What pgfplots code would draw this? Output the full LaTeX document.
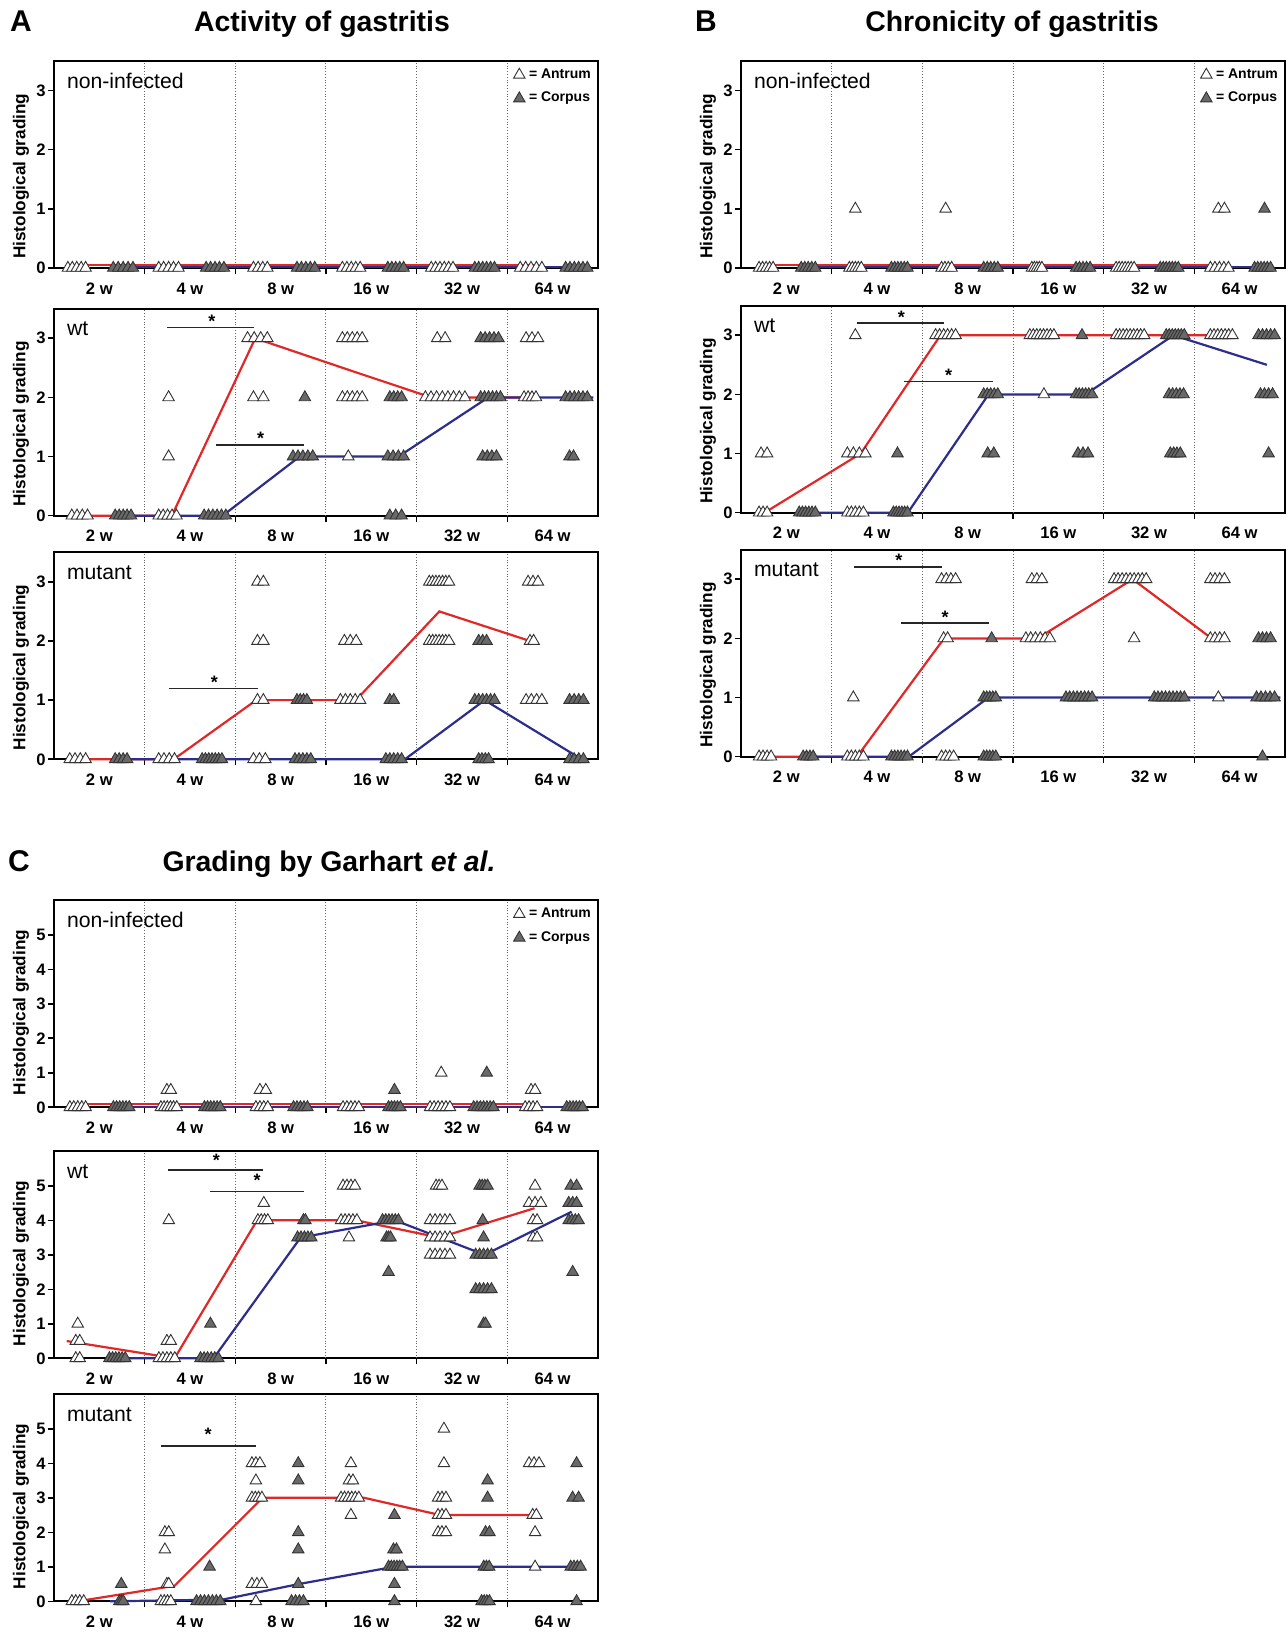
\documentclass[border=0pt]{standalone}
\usepackage{fontspec}
\setmainfont{Liberation Sans}
\usepackage{pgfplots}
\pgfplotsset{compat=1.18}
\definecolor{myred}{RGB}{225,40,40}
\definecolor{myblue}{RGB}{45,45,140}
\definecolor{corp}{RGB}{105,105,105}
\pgfplotsset{
 panel/.style={
  scale only axis, width=272pt, height=103.5pt,
  xmin=0, xmax=6, ymin=0, clip=false,
  axis line style={line width=0.9pt},
  tick pos=left, tick align=outside, major tick length=3pt,
  every tick/.style={black, line width=0.8pt},
  xtick={0.5,1.5,2.5,3.5,4.5,5.5},
  xticklabels={2 w,4 w,8 w,16 w,32 w,64 w},
  xtick style={draw=none},
  extra x ticks={1,2,3,4,5},
  extra x tick labels={},
  extra x tick style={grid=major, xtick style={draw=black,line width=0.8pt}},
  major grid style={densely dotted, black!60, line width=0.5pt},
  ticklabel style={font=\bfseries\fontsize{8.3}{9}\selectfont},
  xticklabel style={yshift=-0.8pt},
  yticklabel style={inner sep=1pt},
  /pgf/number format/assume math mode=true,
  legend style={at={(0.995,0.985)}, anchor=north east, draw=none, fill=none,
    font=\bfseries\fontsize{7}{8}\selectfont, inner sep=0pt, row sep=1.5pt},
  legend cell align=left,
  legend image code/.code={\draw[##1,/tikz/only marks] plot coordinates {(0.1cm,0cm)};},
 },
 pAB/.style={panel, ymax=3.5, ytick={0,1,2,3}, yticklabels={0,1,2,3}},
 pC/.style={panel, ymax=6, ytick={0,1,2,3,4,5}, yticklabels={0,1,2,3,4,5}},
 antrum/.style={only marks, mark=triangle*, mark size=3.3pt, mark options={fill=white, draw=black!80, line width=0.45pt}},
 corpus/.style={only marks, mark=triangle*, mark size=3.3pt, mark options={fill=corp, draw=black!80, line width=0.45pt}},
 redl/.style={no markers, line width=1.1pt, color=myred, forget plot},
 bluel/.style={no markers, line width=1.1pt, color=myblue, forget plot},
 sig/.style={no markers, line width=0.8pt, color=black!85, forget plot},
}
\newcommand{\ylab}[1]{\node[xshift=-16.5pt, rotate=90, font=\bfseries\fontsize{8.6}{9}\selectfont] at (axis cs:0,#1) {Histological grading};}
\newcommand{\pname}[1]{\node[anchor=west, font=\fontsize{10.6}{12}\selectfont] at (rel axis cs:0.011,0.903) {#1};}
\newcommand{\sigstar}[2]{\node[font=\bfseries\fontsize{9}{9}\selectfont] at (axis cs:#1,#2) {*};}
\begin{document}
\begin{tikzpicture}
\useasboundingbox (0,0) rectangle (643.5pt,816pt);
% titles
\node[anchor=base, font=\bfseries\fontsize{15}{16}\selectfont] at (10.5pt,800pt) {A};
\node[anchor=base, font=\bfseries\fontsize{14.2}{16}\selectfont] at (161pt,800pt) {Activity of gastritis};
\node[anchor=base, font=\bfseries\fontsize{15}{16}\selectfont] at (353pt,800pt) {B};
\node[anchor=base, font=\bfseries\fontsize{14.2}{16}\selectfont] at (506pt,800pt) {Chronicity of gastritis};
\node[anchor=base, font=\bfseries\fontsize{15}{16}\selectfont] at (9.5pt,380pt) {C};
\node[anchor=base, font=\bfseries\fontsize{14.2}{16}\selectfont] at (164.5pt,380pt) {Grading by Garhart \textit{et al.}};

% ================= A1
\begin{axis}[pAB, at={(27pt,682pt)}, anchor=south west]
\addplot[antrum] coordinates {(0.153,0)(0.202,0)(0.251,0)(0.300,0)(0.349,0)(1.155,0)(1.209,0)(1.264,0)(1.318,0)(1.373,0)(2.200,0)(2.251,0)(2.302,0)(2.353,0)(3.181,0)(3.230,0)(3.279,0)(3.328,0)(3.377,0)(4.161,0)(4.209,0)(4.257,0)(4.305,0)(4.353,0)(4.401,0)(5.142,0)(5.202,0)(5.261,0)(5.321,0)(5.381,0)};
\addlegendentry{= Antrum}
\addplot[corpus] coordinates {(0.654,0)(0.708,0)(0.763,0)(0.817,0)(0.871,0)(1.678,0)(1.727,0)(1.776,0)(1.825,0)(1.874,0)(2.680,0)(2.729,0)(2.778,0)(2.827,0)(2.876,0)(3.682,0)(3.726,0)(3.769,0)(3.813,0)(3.856,0)(4.641,0)(4.684,0)(4.728,0)(4.771,0)(4.815,0)(4.858,0)(5.643,0)(5.691,0)(5.739,0)(5.786,0)(5.834,0)(5.882,0)};
\addlegendentry{= Corpus}
\addplot[redl] coordinates {(0.16,0.045)(1.26,0.045)(2.28,0.045)(3.28,0.045)(4.28,0.045)(5.3,0.045)};
\addplot[bluel] coordinates {(0.66,0.01)(1.78,0.01)(2.78,0.01)(3.77,0.01)(4.75,0.01)(5.88,0.01)};
\ylab{1.55}
\pname{non-infected}
\end{axis}

% ================= A2
\begin{axis}[pAB, at={(27pt,558.15pt)}, anchor=south west]
\addplot[antrum] coordinates {(0.196,0)(0.254,0)(0.312,0)(0.370,0)
(1.264,2)(1.264,1)(1.155,0)(1.204,0)(1.253,0)(1.302,0)(1.351,0)
(2.135,3)(2.208,3)(2.280,3)(2.353,3)(2.200,2)(2.309,2)
(3.181,3)(3.235,3)(3.290,3)(3.344,3)(3.399,3)(3.181,2)(3.235,2)(3.290,2)(3.344,2)(3.399,2)(3.246,1)
(4.227,3)(4.314,3)(4.096,2)(4.158,2)(4.220,2)(4.283,2)(4.345,2)(4.407,2)(4.470,2)(4.532,2)
(5.207,3)(5.272,3)(5.338,3)(5.185,2)(5.229,2)(5.272,2)(5.316,2)};
\addplot[corpus] coordinates {(0.675,0)(0.719,0)(0.763,0)(0.806,0)(0.850,0)
(1.656,0)(1.704,0)(1.752,0)(1.799,0)(1.847,0)(1.895,0)
(2.767,2)(2.636,1)(2.691,1)(2.745,1)(2.800,1)(2.854,1)
(3.704,2)(3.747,2)(3.791,2)(3.834,2)(3.682,1)(3.740,1)(3.798,1)(3.856,1)(3.704,0)(3.769,0)(3.834,0)
(4.706,3)(4.755,3)(4.804,3)(4.853,3)(4.902,3)(4.706,2)(4.749,2)(4.793,2)(4.837,2)(4.880,2)(4.924,2)(4.728,1)(4.779,1)(4.829,1)(4.880,1)
(5.643,2)(5.691,2)(5.739,2)(5.786,2)(5.834,2)(5.882,2)(5.686,1)(5.730,1)};
\addplot[redl] coordinates {(0.18,0)(1.3,0)(2.22,3)(3.28,2.45)(4.16,2)(5.29,2)};
\addplot[bluel] coordinates {(0.68,0)(1.86,0)(2.71,1)(3.8,1)(4.79,2)(5.95,2)};
\addplot[sig] coordinates {(1.25,3.18)(2.21,3.18)};
\addplot[sig] coordinates {(1.79,1.2)(2.76,1.2)};
\sigstar{1.74}{3.29}
\sigstar{2.28}{1.31}
\ylab{1.55}
\pname{wt}
\end{axis}

% ================= A3
\begin{axis}[pAB, at={(27pt,436.35pt)}, anchor=south west]
\addplot[antrum] coordinates {(0.174,0)(0.232,0)(0.290,0)(0.349,0)
(1.155,0)(1.213,0)(1.271,0)(1.329,0)
(2.244,3)(2.309,3)(2.244,2)(2.309,2)(2.244,1)(2.309,1)(2.200,0)(2.266,0)(2.331,0)
(3.203,2)(3.268,2)(3.333,2)(3.159,1)(3.214,1)(3.268,1)(3.322,1)(3.377,1)
(4.139,3)(4.176,3)(4.212,3)(4.248,3)(4.285,3)(4.321,3)(4.357,3)(4.139,2)(4.176,2)(4.212,2)(4.248,2)(4.285,2)(4.321,2)(4.357,2)
(5.229,3)(5.283,3)(5.338,3)(5.250,2)(5.290,2)(5.207,1)(5.265,1)(5.323,1)(5.381,1)};
\addplot[corpus] coordinates {(0.675,0)(0.719,0)(0.763,0)(0.806,0)
(1.634,0)(1.670,0)(1.707,0)(1.743,0)(1.779,0)(1.816,0)(1.852,0)
(2.680,1)(2.716,1)(2.752,1)(2.789,1)(2.658,0)(2.702,0)(2.745,0)(2.789,0)(2.832,0)
(3.704,1)(3.747,1)(3.660,0)(3.704,0)(3.747,0)(3.791,0)(3.834,0)
(4.684,2)(4.728,2)(4.771,2)(4.641,1)(4.684,1)(4.728,1)(4.771,1)(4.815,1)(4.858,1)(4.684,0)(4.720,0)(4.757,0)(4.793,0)
(5.686,1)(5.737,1)(5.788,1)(5.839,1)(5.686,0)(5.737,0)(5.788,0)(5.839,0)};
\addplot[redl] coordinates {(0.2,0)(1.32,0)(2.23,1)(3.33,1)(4.25,2.5)(5.25,2)};
\addplot[bluel] coordinates {(0.68,0)(1.75,0)(2.75,0)(3.87,0)(4.75,1)(5.82,0)};
\addplot[sig] coordinates {(1.27,1.2)(2.25,1.2)};
\sigstar{1.77}{1.31}
\ylab{1.55}
\pname{mutant}
\end{axis}

% ================= B1
\begin{axis}[pAB, at={(370.5pt,682pt)}, anchor=south west]
\addplot[antrum] coordinates {(0.199,0)(0.238,0)(0.277,0)(0.315,0)(0.354,0)
(1.261,1)(1.195,0)(1.228,0)(1.261,0)(1.294,0)(1.327,0)
(2.257,1)(2.212,0)(2.249,0)(2.286,0)(2.323,0)
(3.208,0)(3.236,0)(3.263,0)(3.291,0)(3.319,0)
(4.137,0)(4.170,0)(4.204,0)(4.237,0)(4.270,0)(4.303,0)(4.336,0)
(5.265,1)(5.332,1)(5.177,0)(5.227,0)(5.277,0)(5.326,0)(5.376,0)};
\addlegendentry{= Antrum}
\addplot[corpus] coordinates {(0.664,0)(0.703,0)(0.741,0)(0.780,0)(0.819,0)
(1.659,0)(1.695,0)(1.730,0)(1.765,0)(1.801,0)(1.836,0)
(2.677,0)(2.716,0)(2.754,0)(2.793,0)(2.832,0)
(3.695,0)(3.733,0)(3.772,0)(3.811,0)(3.850,0)
(4.624,0)(4.657,0)(4.690,0)(4.724,0)(4.757,0)(4.790,0)(4.823,0)
(5.774,1)(5.664,0)(5.699,0)(5.735,0)(5.770,0)(5.805,0)(5.841,0)};
\addlegendentry{= Corpus}
\addplot[redl] coordinates {(0.2,0.045)(1.26,0.045)(2.27,0.045)(3.26,0.045)(4.24,0.045)(5.28,0.045)};
\addplot[bluel] coordinates {(0.66,0.01)(1.75,0.01)(2.75,0.01)(3.77,0.01)(4.72,0.01)(5.84,0.01)};
\ylab{1.55}
\pname{non-infected}
\end{axis}

% ================= B2
\begin{axis}[pAB, at={(370.5pt,559.65pt)}, anchor=south west]
\addplot[antrum] coordinates {(0.221,1)(0.288,1)(0.199,0)(0.243,0)(0.288,0)
(1.261,3)(1.173,1)(1.239,1)(1.305,1)(1.372,1)(1.173,0)(1.217,0)(1.261,0)(1.305,0)(1.350,0)
(2.146,3)(2.190,3)(2.235,3)(2.279,3)(2.323,3)(2.367,3)
(3.186,3)(3.224,3)(3.262,3)(3.300,3)(3.337,3)(3.375,3)(3.413,3)(3.451,3)(3.341,2)
(4.137,3)(4.176,3)(4.215,3)(4.253,3)(4.292,3)(4.331,3)(4.370,3)(4.408,3)(4.447,3)
(5.177,3)(5.217,3)(5.258,3)(5.298,3)(5.339,3)(5.379,3)(5.420,3)};
\addplot[corpus] coordinates {(0.642,0)(0.677,0)(0.712,0)(0.748,0)(0.783,0)(0.819,0)
(1.726,1)(1.681,0)(1.712,0)(1.743,0)(1.774,0)(1.805,0)(1.836,0)
(2.677,2)(2.716,2)(2.754,2)(2.793,2)(2.832,2)(2.721,1)(2.788,1)
(3.761,3)(3.695,2)(3.730,2)(3.765,2)(3.801,2)(3.836,2)(3.872,2)(3.717,1)(3.772,1)(3.827,1)
(4.690,3)(4.723,3)(4.757,3)(4.790,3)(4.823,3)(4.856,3)(4.889,3)(4.721,2)(4.761,2)(4.801,2)(4.841,2)(4.881,2)(4.735,1)(4.772,1)(4.808,1)(4.845,1)
(5.708,3)(5.752,3)(5.796,3)(5.841,3)(5.885,3)(5.730,2)(5.774,2)(5.819,2)(5.863,2)(5.819,1)};
\addplot[redl] coordinates {(0.26,0)(1.32,1)(2.2,3)(3.3,3)(4.3,3)(5.2,3)};
\addplot[bluel] coordinates {(0.64,0)(1.84,0)(2.73,2)(3.8,2)(4.77,3)(5.8,2.5)};
\addplot[sig] coordinates {(1.28,3.21)(2.24,3.21)};
\addplot[sig] coordinates {(1.8,2.22)(2.78,2.22)};
\sigstar{1.77}{3.31}
\sigstar{2.29}{2.32}
\ylab{1.55}
\pname{wt}
\end{axis}

% ================= B3
\begin{axis}[pAB, at={(370.5pt,437.65pt)}, anchor=south west]
\addplot[antrum] coordinates {(0.199,0)(0.243,0)(0.288,0)(0.332,0)
(1.239,1)(1.173,0)(1.217,0)(1.261,0)(1.305,0)(1.350,0)
(2.212,3)(2.264,3)(2.315,3)(2.367,3)(2.235,2)(2.279,2)(2.212,0)(2.257,0)(2.301,0)(2.345,0)
(3.208,3)(3.263,3)(3.319,3)(3.142,2)(3.195,2)(3.248,2)(3.301,2)(3.354,2)(3.407,2)
(4.115,3)(4.159,3)(4.204,3)(4.248,3)(4.292,3)(4.336,3)(4.381,3)(4.425,3)(4.469,3)(4.336,2)
(5.177,3)(5.228,3)(5.280,3)(5.332,3)(5.177,2)(5.228,2)(5.280,2)(5.332,2)(5.265,1)};
\addplot[corpus] coordinates {(0.686,0)(0.723,0)(0.760,0)(0.796,0)
(1.659,0)(1.695,0)(1.730,0)(1.765,0)(1.801,0)(1.836,0)
(2.765,2)(2.677,1)(2.710,1)(2.743,1)(2.777,1)(2.810,1)(2.677,0)(2.710,0)(2.743,0)(2.777,0)(2.810,0)
(3.584,1)(3.625,1)(3.666,1)(3.707,1)(3.749,1)(3.790,1)(3.831,1)(3.872,1)
(4.558,1)(4.599,1)(4.641,1)(4.682,1)(4.724,1)(4.765,1)(4.807,1)(4.848,1)(4.889,1)
(5.708,2)(5.752,2)(5.796,2)(5.841,2)(5.686,1)(5.735,1)(5.785,1)(5.835,1)(5.885,1)(5.752,0)};
\addplot[redl] coordinates {(0.27,0)(1.28,0)(2.24,2)(3.27,2)(4.32,3)(5.19,2)};
\addplot[bluel] coordinates {(0.69,0)(1.85,0)(2.73,1)(3.8,1)(4.75,1)(5.95,1)};
\addplot[sig] coordinates {(1.25,3.21)(2.22,3.21)};
\addplot[sig] coordinates {(1.77,2.26)(2.74,2.26)};
\sigstar{1.74}{3.32}
\sigstar{2.25}{2.36}
\ylab{1.55}
\pname{mutant}
\end{axis}

% ================= C1
\begin{axis}[pC, at={(27pt,262.35pt)}, anchor=south west]
\addplot[antrum] coordinates {(0.175,0)(0.218,0)(0.262,0)(0.306,0)(0.349,0)
(1.245,0.5)(1.288,0.5)(1.179,0)(1.214,0)(1.249,0)(1.284,0)(1.319,0)(1.354,0)
(2.271,0.5)(2.336,0.5)(2.227,0)(2.271,0)(2.314,0)(2.358,0)
(3.188,0)(3.231,0)(3.275,0)(3.319,0)(3.362,0)
(4.271,1)(4.148,0)(4.192,0)(4.236,0)(4.279,0)(4.323,0)(4.367,0)
(5.262,0.5)(5.306,0.5)(5.197,0)(5.240,0)(5.284,0)(5.328,0)};
\addlegendentry{= Antrum}
\addplot[corpus] coordinates {(0.655,0)(0.690,0)(0.725,0)(0.760,0)(0.795,0)(0.830,0)
(1.659,0)(1.694,0)(1.729,0)(1.764,0)(1.799,0)(1.834,0)
(2.642,0)(2.680,0)(2.718,0)(2.757,0)(2.795,0)
(3.755,0.5)(3.690,0)(3.723,0)(3.755,0)(3.788,0)(3.821,0)
(4.773,1)(4.629,0)(4.666,0)(4.702,0)(4.738,0)(4.775,0)(4.811,0)(4.847,0)
(5.655,0)(5.690,0)(5.725,0)(5.760,0)(5.795,0)(5.830,0)};
\addlegendentry{= Corpus}
\addplot[redl] coordinates {(0.18,0.09)(1.27,0.09)(2.29,0.09)(3.27,0.09)(4.26,0.09)(5.3,0.09)};
\addplot[bluel] coordinates {(0.66,0.02)(1.75,0.02)(2.72,0.02)(3.76,0.02)(4.74,0.02)(5.85,0.02)};
\ylab{2.75}
\pname{non-infected}
\end{axis}

% ================= C2
\begin{axis}[pC, at={(27pt,136.85pt)}, anchor=south west]
\addplot[antrum] coordinates {(0.262,1)(0.240,0.5)(0.284,0.5)(0.240,0)(0.284,0)
(1.266,4)(1.245,0.5)(1.288,0.5)(1.157,0)(1.201,0)(1.245,0)(1.288,0)(1.332,0)
(2.314,4.5)(2.249,4)(2.285,4)(2.322,4)(2.358,4)
(3.188,5)(3.231,5)(3.275,5)(3.319,5)(3.166,4)(3.210,4)(3.253,4)(3.297,4)(3.341,4)(3.253,3.5)
(4.214,5)(4.247,5)(4.279,5)(4.148,4)(4.203,4)(4.258,4)(4.312,4)(4.367,4)(4.148,3.5)(4.203,3.5)(4.258,3.5)(4.312,3.5)(4.367,3.5)(4.148,3)(4.203,3)(4.258,3)(4.312,3)(4.367,3)
(5.306,5)(5.240,4.5)(5.306,4.5)(5.371,4.5)(5.284,4)(5.328,4)(5.284,3.5)(5.328,3.5)};
\addplot[corpus] coordinates {(0.611,0)(0.646,0)(0.681,0)(0.716,0)(0.751,0)(0.786,0)
(1.725,1)(1.616,0)(1.655,0)(1.694,0)(1.734,0)(1.773,0)(1.812,0)
(2.751,4)(2.773,4)(2.686,3.5)(2.724,3.5)(2.762,3.5)(2.800,3.5)(2.838,3.5)
(3.624,4)(3.659,4)(3.694,4)(3.729,4)(3.764,4)(3.799,4)(3.668,3.5)(3.690,3.5)(3.712,3.5)(3.690,2.5)
(4.694,5)(4.723,5)(4.752,5)(4.782,5)(4.729,4)(4.738,3.5)(4.651,3)(4.694,3)(4.738,3)(4.782,3)(4.825,3)(4.651,2)(4.694,2)(4.738,2)(4.782,2)(4.825,2)(4.738,1)(4.760,1)
(5.699,5)(5.764,5)(5.677,4.5)(5.721,4.5)(5.764,4.5)(5.677,4)(5.713,4)(5.750,4)(5.786,4)(5.721,2.5)};
\addplot[redl] coordinates {(0.14,0.5)(1.33,0)(2.24,4)(3.33,4)(4.25,3.5)(5.3,4.35)};
\addplot[bluel] coordinates {(0.6,0)(1.76,0)(2.72,3.5)(3.76,4)(4.75,3)(5.71,4.25)};
\addplot[sig] coordinates {(1.26,5.45)(2.3,5.45)};
\addplot[sig] coordinates {(1.72,4.84)(2.76,4.84)};
\sigstar{1.79}{5.75}
\sigstar{2.24}{5.15}
\ylab{2.75}
\pname{wt}
\end{axis}

% ================= C3
\begin{axis}[pC, at={(27pt,15.35pt)}, anchor=south west]
\addplot[antrum] coordinates {(0.197,0)(0.240,0)(0.284,0)(0.328,0)
(1.223,2)(1.266,2)(1.223,1.5)(1.245,0.5)(1.266,0.5)(1.179,0)(1.216,0)(1.252,0)(1.288,0)
(2.183,4)(2.227,4)(2.271,4)(2.227,3.5)(2.183,3)(2.220,3)(2.256,3)(2.293,3)(2.183,0.5)(2.238,0.5)(2.293,0.5)(2.227,0)
(3.275,4)(3.253,3.5)(3.297,3.5)(3.166,3)(3.205,3)(3.245,3)(3.284,3)(3.323,3)(3.362,3)(3.275,2.5)
(4.301,5)(4.301,4)(4.236,3)(4.279,3)(4.323,3)(4.236,2.5)(4.279,2.5)(4.323,2.5)(4.236,2)(4.279,2)(4.323,2)
(5.240,4)(5.295,4)(5.350,4)(5.280,2.5)(5.320,2.5)(5.306,2)(5.306,1)};
\addplot[corpus] coordinates {(0.742,0.5)(0.721,0)(0.742,0)(0.764,0)
(1.716,1)(1.572,0)(1.616,0)(1.659,0)(1.703,0)(1.747,0)(1.790,0)(1.834,0)
(2.694,4)(2.694,3.5)(2.694,2)(2.694,1.5)(2.694,0.5)(2.620,0)(2.664,0)(2.707,0)(2.751,0)
(3.755,2.5)(3.744,1.5)(3.777,1.5)(3.690,1)(3.721,1)(3.751,1)(3.782,1)(3.812,1)(3.843,1)(3.755,0.5)(3.755,0)
(4.782,3.5)(4.782,3)(4.760,2)(4.803,2)(4.740,1)(4.770,1)(4.800,1)(4.716,0)(4.745,0)(4.774,0)(4.803,0)
(5.764,4)(5.720,3)(5.786,3)(5.699,1)(5.735,1)(5.772,1)(5.808,1)(5.764,0)};
\addplot[redl] coordinates {(0.26,0)(1.33,0.45)(2.3,3)(3.42,3)(4.26,2.5)(5.25,2.5)};
\addplot[bluel] coordinates {(0.62,0)(1.86,0.05)(2.7,0.5)(3.75,1)(4.75,1)(5.85,1)};
\addplot[sig] coordinates {(1.18,4.51)(2.23,4.51)};
\sigstar{1.7}{4.85}
\ylab{2.75}
\pname{mutant}
\end{axis}
\end{tikzpicture}
\end{document}
